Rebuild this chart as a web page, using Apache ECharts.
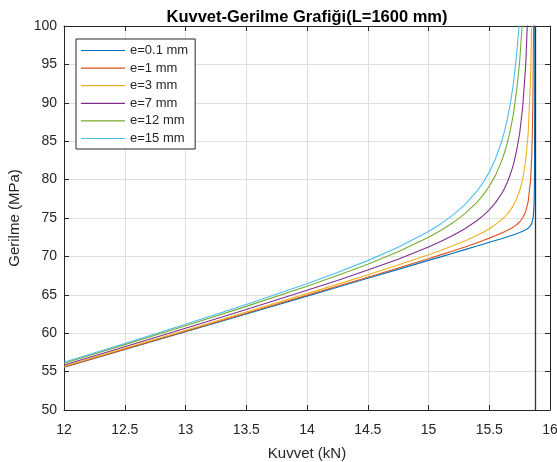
<!DOCTYPE html>
<html>
<head>
<meta charset="utf-8">
<script src="https://cdn.jsdelivr.net/npm/echarts@6/dist/echarts.min.js"></script>
<style>
html,body{margin:0;padding:0;background:#fff;}
#chart{width:557px;height:462px;}
</style>
</head>
<body>
<div id="chart"></div>
<script>
// Kuvvet (kN) okumalari
var kuvvet = [12, 12.5, 13, 13.5, 14, 14.25, 14.5, 14.75, 15, 15.1, 15.2, 15.3, 15.4, 15.45, 15.5, 15.55, 15.6, 15.625, 15.65, 15.675, 15.7, 15.725, 15.75, 15.775, 15.8, 15.82, 15.84, 15.85, 15.855, 15.86, 15.865, 15.87, 15.872, 15.875, 15.876];

// Gerilme (MPa) her eksantrisite icin
var e01 = [55.56, 57.88, 60.20, 62.51, 64.83, 65.99, 67.15, 68.31, 69.48, 69.94, 70.41, 70.88, 71.35, 71.59, 71.83, 72.07, 72.31, 72.44, 72.56, 72.69, 72.82, 72.96, 73.11, 73.27, 73.47, 73.67, 74.00, 74.30, 74.54, 74.92, 75.61, 77.44, 79.42, 97.26, 140];
var e1  = [55.60, 57.93, 60.26, 62.59, 64.93, 66.11, 67.29, 68.49, 69.70, 70.20, 70.71, 71.23, 71.78, 72.07, 72.38, 72.70, 73.03, 73.21, 73.40, 73.61, 73.84, 74.12, 74.48, 75.00, 75.85, 77.10, 79.90, 83.20, 86.20, 91.00, 100.50, 113.06];
var e3  = [55.69, 58.03, 60.38, 62.75, 65.15, 66.36, 67.60, 68.87, 70.21, 70.78, 71.38, 72.02, 72.75, 73.15, 73.61, 74.13, 74.76, 75.13, 75.56, 76.06, 76.68, 77.50, 78.51, 80.04, 82.48, 85.93, 93.08, 100.78];
var e7  = [55.87, 58.24, 60.64, 63.08, 65.58, 66.87, 68.22, 69.64, 71.22, 71.93, 72.71, 73.60, 74.67, 75.31, 76.06, 76.97, 78.12, 78.84, 79.69, 80.72, 82.01, 83.77, 85.97, 89.38, 94.92, 102.83];
var e12 = [56.08, 58.51, 60.97, 63.49, 66.12, 67.51, 68.99, 70.61, 72.49, 73.37, 74.37, 75.57, 77.07, 78.01, 79.13, 80.52, 82.34, 83.49, 84.86, 86.53, 88.66, 91.59, 95.28, 101.06];
var e15 = [56.22, 58.66, 61.16, 63.74, 66.45, 67.90, 69.45, 71.18, 73.24, 74.23, 75.37, 76.75, 78.52, 79.63, 80.97, 82.66, 84.86, 86.27, 87.96, 90.02, 92.65, 96.29, 100.87];

var seriesNames = ['e=0.1 mm', 'e=1 mm', 'e=3 mm', 'e=7 mm', 'e=12 mm', 'e=15 mm'];
var seriesValues = [e01, e1, e3, e7, e12, e15];
var colors = ['#0072BD', '#D95319', '#EDB120', '#7E2F8E', '#77AC30', '#4DBEEE'];

// kritik yuk (dikey cizgi)
var pcr = 15.876;

var xTicks = {min: 12, max: 16, interval: 0.5};
var yTicks = {min: 50, max: 100, interval: 5};

var font = "'Liberation Sans', Arial, Helvetica, sans-serif";
var axisColor = '#262626';

function pairs(ys){
    return ys.map(function(y, i){ return [kuvvet[i], y]; });
}

var series = seriesValues.map(function(vals, i){
    var s = {
        name: seriesNames[i],
        type: 'line',
        data: pairs(vals),
        symbol: 'none',
        color: colors[i],
        lineStyle: {width: 1.1, color: colors[i]},
        clip: true,
        z: 3
    };
    if(i === 0){
        s.markLine = {
            silent: true,
            symbol: ['none', 'none'],
            label: {show: false},
            lineStyle: {color: '#333', type: 'solid', width: 1.3},
            data: [{xAxis: pcr}]
        };
    }
    return s;
});

var myChart = echarts.init(document.getElementById('chart'));
myChart.setOption({
    animation: false,
    backgroundColor: '#fff',
    textStyle: {fontFamily: font},
    title: {
        text: 'Kuvvet-Gerilme Grafiği(L=1600 mm)',
        left: 302,
        textAlign: 'center',
        top: 4,
        textStyle: {fontSize: 16.5, fontWeight: 'bold', color: '#000', fontFamily: font}
    },
    legend: {
        data: seriesNames,
        orient: 'vertical',
        left: 76,
        top: 39,
        icon: 'path://M0,0L44,0L44,1.2L0,1.2Z',
        itemWidth: 44,
        itemHeight: 14,
        itemGap: 4.6,
        padding: [5, 7, 4, 5],
        borderColor: axisColor,
        borderWidth: 1,
        backgroundColor: '#fff',
        textStyle: {fontSize: 13, color: axisColor, fontFamily: font}
    },
    grid: {left: 64, right: 7, top: 26, bottom: 52, containLabel: false, outerBoundsMode: 'none'},
    xAxis: [{
        type: 'value',
        min: xTicks.min, max: xTicks.max, interval: xTicks.interval,
        name: 'Kuvvet (kN)',
        nameLocation: 'middle',
        nameGap: 36,
        nameTextStyle: {fontSize: 15, color: axisColor, fontFamily: font},
        axisLine: {show: true, onZero: false, lineStyle: {color: axisColor, width: 1}},
        axisTick: {show: true, inside: true, length: 5, lineStyle: {color: axisColor}},
        axisLabel: {fontSize: 14, color: axisColor, margin: 13, fontFamily: font},
        splitLine: {show: true, lineStyle: {color: '#dfdfdf', width: 1}}
    }, {
        type: 'value',
        position: 'top',
        min: xTicks.min, max: xTicks.max, interval: xTicks.interval,
        axisLine: {show: true, onZero: false, lineStyle: {color: axisColor, width: 1}},
        axisTick: {show: true, inside: true, length: 5, lineStyle: {color: axisColor}},
        axisLabel: {show: false},
        splitLine: {show: false}
    }],
    yAxis: [{
        type: 'value',
        min: yTicks.min, max: yTicks.max, interval: yTicks.interval,
        name: 'Gerilme (MPa)',
        nameLocation: 'middle',
        nameGap: 30,
        nameTextStyle: {fontSize: 15, color: axisColor, fontFamily: font},
        axisLine: {show: true, onZero: false, lineStyle: {color: axisColor, width: 1}},
        axisTick: {show: true, inside: true, length: 5, lineStyle: {color: axisColor}},
        axisLabel: {fontSize: 14, color: axisColor, margin: 7, fontFamily: font},
        splitLine: {show: true, lineStyle: {color: '#dfdfdf', width: 1}}
    }, {
        type: 'value',
        position: 'right',
        min: yTicks.min, max: yTicks.max, interval: yTicks.interval,
        axisLine: {show: true, onZero: false, lineStyle: {color: axisColor, width: 1}},
        axisTick: {show: true, inside: true, length: 5, lineStyle: {color: axisColor}},
        axisLabel: {show: false},
        splitLine: {show: false}
    }],
    series: series
});
</script>
</body>
</html>
